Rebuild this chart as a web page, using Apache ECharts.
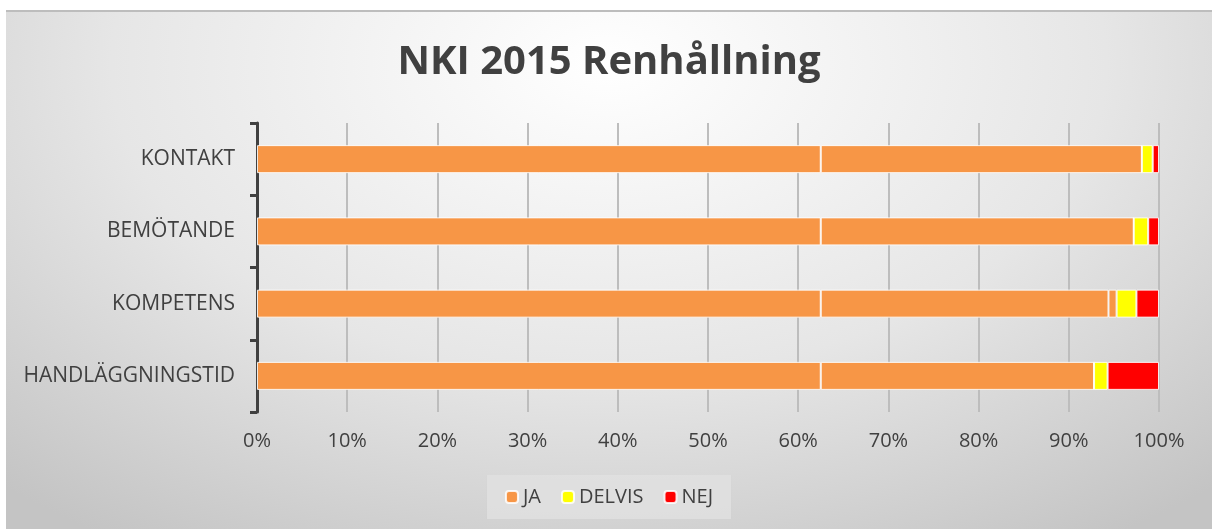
<!DOCTYPE html>
<html>
<head>
<meta charset="utf-8">
<script src="https://cdn.jsdelivr.net/npm/echarts@6/dist/echarts.min.js"></script>
<style>
    html, body { margin: 0; padding: 0; background: #ffffff; }
    #frame {
        position: absolute; left: 6px; top: 10px; width: 1206px; height: 519px;
        border-top: 2px solid #bdbdbd; box-sizing: border-box;
        background: radial-gradient(ellipse 75% 110% at 50% 10%, #ffffff 0%, #e6e6e6 55%, #c4c4c4 100%);
    }
    #chart { width: 100%; height: 100%; }
</style>
</head>
<body>
<div id="frame"><div id="chart"></div></div>
<script>
// categories, bottom to top as in the picture
const categories = ['HANDLÄGGNINGSTID', 'KOMPETENS', 'BEMÖTANDE', 'KONTAKT'];
// JA is drawn in the picture as separate segments of the same colour
const jaPart1 = [62.5, 62.5, 62.5, 62.5];
const jaPart2 = [30.3, 31.9, 34.7, 35.6];
const jaPart3 = [0, 0.9, 0, 0];
const delvis = [1.5, 2.2, 1.6, 1.2];
const nej = [5.7, 2.5, 1.2, 0.7];
const xTicks = [0, 10, 20, 30, 40, 50, 60, 70, 80, 90, 100];

document.addEventListener('DOMContentLoaded', function() {
    const chart = echarts.init(document.getElementById('chart'));
    const font = '"Open Sans", sans-serif';
    const border = { borderColor: 'rgba(255,255,255,0.85)', borderWidth: 1 };

    function bar(name, data, color) {
        return {
            name: name,
            type: 'bar',
            stack: 'total',
            barWidth: 28,
            data: data,
            itemStyle: Object.assign({ color: color }, border)
        };
    }

    const option = {
        animation: false,
        title: {
            text: 'NKI 2015 Renhållning',
            left: 'center',
            top: 26,
            textStyle: { fontFamily: font, fontWeight: 'bold', fontSize: 40, color: '#404040' }
        },
        legend: {
            bottom: 10,
            left: 'center',
            data: ['JA', 'DELVIS', 'NEJ'],
            itemWidth: 12,
            itemHeight: 12,
            itemGap: 20,
            padding: [12, 18, 12, 18],
            backgroundColor: 'rgba(225,225,225,0.8)',
            textStyle: { fontFamily: font, fontSize: 20, color: '#404040' }
        },
        grid: { left: 251, right: 53, top: 111, bottom: 117 },
        xAxis: {
            type: 'value',
            min: 0,
            max: 100,
            interval: 10,
            axisLine: { show: false },
            axisTick: { show: false },
            splitLine: { show: true, lineStyle: { color: '#bdbdbd', width: 2 } },
            axisLabel: {
                formatter: function(v) { return xTicks.indexOf(v) >= 0 ? v + '%' : ''; },
                fontFamily: font, fontSize: 20, color: '#404040', margin: 19
            }
        },
        yAxis: {
            type: 'category',
            data: categories,
            axisLine: { show: true, lineStyle: { color: '#404040', width: 3 } },
            axisTick: { show: true, length: 7, lineStyle: { color: '#404040', width: 3 } },
            axisLabel: { fontFamily: font, fontSize: 21, color: '#404040', margin: 22 }
        },
        series: [
            bar('JA', jaPart1, '#f79646'),
            bar('JA', jaPart2, '#f79646'),
            bar('JA', jaPart3, '#f79646'),
            bar('DELVIS', delvis, '#ffff00'),
            bar('NEJ', nej, '#ff0000')
        ]
    };
    chart.setOption(option);
});
</script>
</body>
</html>
